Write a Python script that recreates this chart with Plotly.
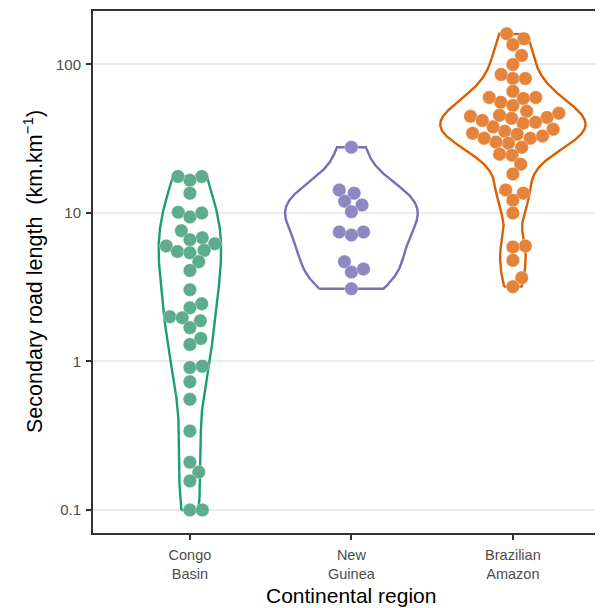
import numpy as np
import plotly.graph_objects as go

# ---- data ----
regions = ["Congo Basin", "New Guinea", "Brazilian Amazon"]
region_labels = ["Congo<br>Basin", "New<br>Guinea", "Brazilian<br>Amazon"]

congo = [17.6, 16.6, 17.6, 13.6, 10.1, 9.4, 10.0, 7.6,
         6.0, 6.8, 6.6, 6.2, 5.5, 5.4, 5.6, 4.7, 4.1,
         3.04, 2.45, 2.30, 2.0, 1.97, 1.88, 1.69, 1.43, 1.30,
         0.91, 0.93, 0.73, 0.556, 0.34, 0.21, 0.18, 0.157, 0.1, 0.1]
new_guinea = [27.7, 14.3, 13.6, 12.0, 11.3, 10.2, 7.45, 7.1, 7.45,
              4.7, 4.0, 4.2, 3.09]
amazon = [161, 149, 136, 115, 100, 80.5, 80.5, 85.7, 65.9,
          60, 55.6, 53, 59, 60, 48.4, 44, 40.8, 40.2, 43.4, 44.8, 45.5,
          35.5, 33.9, 34.4, 36.6, 31.9, 27.7, 29.5, 30, 31.9,
          38, 42, 47, 33,
          24.5, 24.9, 21.3, 18.3, 13.6, 14.3, 12.2, 10.0, 6.0, 5.9, 4.8,
          3.66, 3.19]

series = [congo, new_guinea, amazon]
line_colors = ["#1b9e77", "#7570b3", "#d95f02"]
point_colors = ["rgb(92,172,141)", "rgb(141,135,196)", "rgb(229,131,58)"]

y_ticks = [0.1, 1, 10, 100]
y_ticktext = ["0.1", "1", "10", "100"]

# ---- layout geometry (page body adds an 8px margin) ----
W, H = 595, 600
ML, MR, MT, MB = 85, 0, 3, 75
x_range = [0.4, 3.558]
y_range = [-1.155, 2.360]
px_x = (W - ML - MR) / (x_range[1] - x_range[0])
px_y = (H - MT - MB) / (y_range[1] - y_range[0])
DOT = 12.5


def kde_violin(vals, n=512):
    lv = np.log10(np.asarray(vals, float))
    sd = lv.std(ddof=1)
    q75, q25 = np.percentile(lv, [75, 25])
    lo = min(sd, (q75 - q25) / 1.34)
    if lo <= 0:
        lo = sd
    bw = 0.9 * lo * len(lv) ** (-0.2)
    grid = np.linspace(lv.min(), lv.max(), n)
    dens = np.exp(-0.5 * ((grid[:, None] - lv[None, :]) / bw) ** 2).sum(1)
    dens /= (len(lv) * bw * np.sqrt(2 * np.pi))
    return grid, dens


def swarm(vals):
    ys = np.log10(np.asarray(vals, float)) * px_y
    xs = np.zeros(len(ys))
    placed = []
    for i in np.argsort(ys, kind="stable"):
        y = ys[i]
        near = [(xp, yp) for xp, yp in placed if abs(yp - y) < DOT]
        cands = [0.0]
        for xp, yp in near:
            dx = np.sqrt(DOT ** 2 - (yp - y) ** 2)
            cands += [xp + dx, xp - dx]
        cands.sort(key=lambda c: (round(abs(c), 6), -c))
        for c in cands:
            if all((c - xp) ** 2 + (y - yp) ** 2 >= DOT ** 2 - 1e-6 for xp, yp in near):
                xs[i] = c
                placed.append((c, y))
                break
    return xs / px_x


fig = go.Figure()

dens_all = [kde_violin(s) for s in series]
dmax = max(d.max() for _, d in dens_all)

for k, (vals, (grid, dens)) in enumerate(zip(series, dens_all)):
    pos = k + 1
    half = 0.45 * dens / dmax
    xs = np.concatenate([pos - half, (pos + half)[::-1], [pos - half[0]]])
    ys = np.concatenate([10 ** grid, (10 ** grid)[::-1], [10 ** grid[0]]])
    fig.add_trace(go.Scatter(x=xs, y=ys, mode="lines",
                             line=dict(color=line_colors[k], width=2.4),
                             hoverinfo="skip", showlegend=False))

for k, vals in enumerate(series):
    pos = k + 1
    off = swarm(vals)
    fig.add_trace(go.Scatter(x=pos + off, y=vals, mode="markers",
                             marker=dict(size=13.5, color=point_colors[k],
                                         line=dict(color="rgba(255,255,255,0.4)", width=0.8)),
                             name=regions[k], showlegend=False))

axis_line = dict(showline=True, linecolor="#333333", linewidth=2,
                 ticks="outside", ticklen=5, tickwidth=1.5, tickcolor="#333333",
                 zeroline=False, automargin=False)

fig.update_layout(
    width=W, height=H,
    margin=dict(l=ML, r=MR, t=MT, b=MB),
    paper_bgcolor="white", plot_bgcolor="white",
    font=dict(family="Liberation Sans, Arial, sans-serif"),
    xaxis=dict(range=x_range, tickvals=[1, 2, 3], ticktext=region_labels,
               showgrid=False, mirror=True, ticklabelstandoff=3,
               tickfont=dict(size=14.5, color="#4d4d4d"),
               **axis_line),
    yaxis=dict(type="log", range=y_range, tickvals=y_ticks, ticktext=y_ticktext,
               showgrid=True, gridcolor="#EBEBEB", gridwidth=1.5,
               ticklabelstandoff=2,
               tickfont=dict(size=15, color="#4d4d4d"),
               **axis_line),
    annotations=[
        dict(text="Continental region", xref="x", yref="paper",
             x=2, y=0, yshift=-62, yanchor="middle", xanchor="center",
             showarrow=False, font=dict(size=21, color="black")),
        dict(text="Secondary road length\u00a0\u00a0(km.km<sup>\u22121</sup>)",
             xref="paper", yref="paper", x=0, xshift=-60, y=0.5,
             xanchor="center", yanchor="middle", textangle=-90, showarrow=False,
             font=dict(size=21.5, color="black")),
    ],
)

fig.write_html("out.html")
